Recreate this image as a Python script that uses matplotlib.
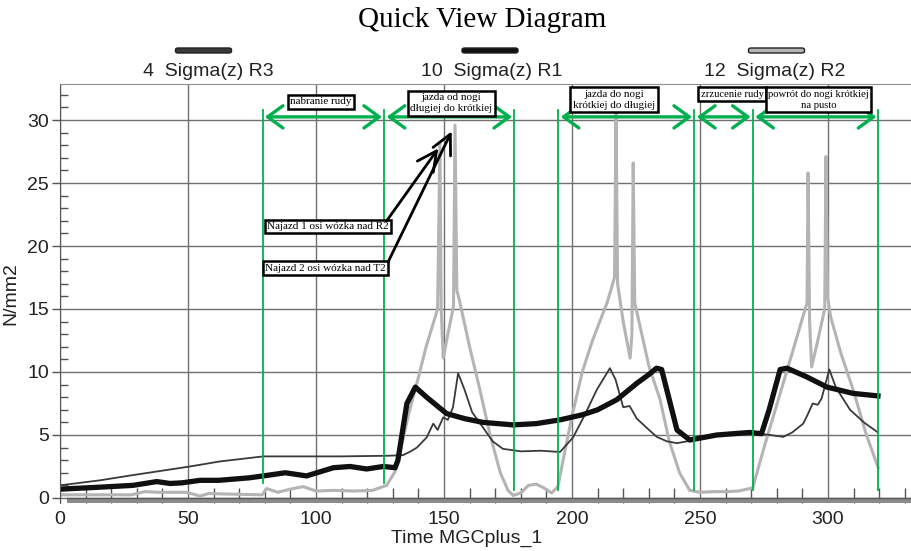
import matplotlib
matplotlib.use("Agg")
from matplotlib import pyplot as plt
from matplotlib.patches import FancyBboxPatch, ArrowStyle
from matplotlib.ticker import MultipleLocator

plt.rcParams['font.family'] = ['Liberation Sans', 'DejaVu Sans']

# ---- data ----
# 4 Sigma(z) R3 (thin dark grey)
r3_t = [0, 15.6, 28, 37.8, 50.8, 62.5, 79.4, 95.7, 110, 128, 134, 137, 139.4, 143.2, 145.8, 147.5,
        149.7, 151.5, 153.5, 155.5, 158, 161, 165.2, 169, 173, 180, 188, 195.3, 200.4, 205, 209.7,
        214.8, 217, 220, 222.5, 225.3, 229, 233.1, 237, 241, 247.8, 255, 262, 269.5, 277.3, 282.5,
        286, 290.3, 292, 294, 296, 297.5, 300.5, 303, 308.6, 314, 319.5]
r3_v = [1.0, 1.4, 1.8, 2.1, 2.5, 2.9, 3.3, 3.3, 3.3, 3.35, 3.4, 3.7, 4.0, 4.8, 5.9, 5.4,
        6.4, 6.2, 7.2, 9.9, 8.6, 6.8, 5.6, 4.5, 3.9, 3.7, 3.75, 3.65, 4.8, 6.6, 8.6,
        10.3, 9.4, 7.2, 7.3, 6.3, 5.6, 4.85, 4.5, 4.35, 4.6, 4.9, 5.05, 5.2, 5.0, 4.85,
        5.2, 5.9, 6.6, 7.5, 7.4, 7.9, 10.2, 8.8, 7.0, 6.0, 5.2]

# 10 Sigma(z) R1 (thick black)
r1_t = [0, 15, 28.5, 37.8, 43, 47.6, 54.7, 62, 74, 79.4, 88, 96.3, 106.8, 113.3, 119.8, 126.3, 130.9,
        132, 135.5, 138.8, 143.2, 151, 158, 165.2, 177, 186, 195.3, 204, 210, 217.5, 225.3, 230, 233,
        235, 237, 241, 246, 256.6, 269.5, 274, 277, 281.3, 284, 291.8, 299.6, 309.8, 319.5]
r1_v = [0.7, 0.85, 1.0, 1.3, 1.15, 1.2, 1.4, 1.4, 1.6, 1.75, 2.0, 1.75, 2.4, 2.5, 2.3, 2.5, 2.4,
        3.0, 7.5, 8.8, 8.0, 6.7, 6.3, 6.0, 5.8, 5.9, 6.2, 6.6, 7.0, 7.8, 9.1, 9.8, 10.3,
        10.2, 8.6, 5.4, 4.6, 5.0, 5.2, 5.1, 7.0, 10.2, 10.3, 9.6, 8.8, 8.3, 8.1]

# 12 Sigma(z) R2 (light grey)
r2_t = [0, 15.6, 28, 33, 39, 49.5, 54.7, 58, 67.7, 79, 80.7, 85, 90, 95, 100, 106.8, 115, 122,
        127.6, 130.9, 132.8, 136, 139.9, 143, 147.5, 148.4, 148.9, 149.7, 151.5, 153.7, 154.3, 155,
        156, 160, 164, 168, 172, 175, 177, 180, 183, 186, 189, 192, 194.5, 197, 200, 204, 208,
        213.7, 216.6, 217.2, 217.8, 220, 222.7, 223.4, 223.9, 224.5, 225.4, 230, 234.4, 238, 242,
        246, 250, 255, 260, 265, 270.6, 275, 281.3, 286, 290.2, 291.8, 292.2, 292.8, 293.6, 296,
        298.7, 299.2, 299.8, 301, 305, 309.8, 315, 319.6]
r2_v = [0.25, 0.25, 0.25, 0.5, 0.45, 0.45, 0.15, 0.35, 0.3, 0.25, 0.75, 0.45, 0.7, 0.9, 0.55, 0.6, 0.55, 0.6,
        1.0, 2.1, 3.6, 6.5, 9.5, 12.0, 15.0, 28.2, 15.0, 11.1, 13.0, 15.2, 29.6, 16.5,
        15.7, 12.0, 8.6, 5.0, 2.0, 0.6, 0.2, 0.4, 1.0, 1.1, 0.8, 0.4, 0.9, 3.5, 6.5, 10.0, 12.5,
        15.5, 17.5, 30.5, 17.0, 14.0, 11.1, 13.0, 26.6, 15.5, 14.7, 10.5, 7.8, 4.5, 2.0,
        0.6, 0.45, 0.5, 0.5, 0.55, 0.8, 4.0, 8.3, 11.5, 14.4, 15.5, 25.8, 14.0, 10.4, 12.5,
        15.0, 27.1, 16.0, 14.4, 11.5, 8.6, 5.0, 2.4]

# phase boundaries (green lines) and labels
bounds = [79.2, 126.6, 177.4, 194.6, 247.8, 270.6, 319.7]
bound_bottom = [1.2, 1.2, 0.6, 0.6, 0.6, 0.6, 0.6]
phase_arrows = [(80.0, 125.8), (127.6, 176.6), (195.6, 246.9), (248.8, 269.8), (271.6, 318.9)]
phase_texts = ["nabranie rudy", "jazda od nogi\ndługiej do krótkiej", "jazda do nogi\nkrótkiej do długiej",
               "zrzucenie rudy", "powrót do nogi krótkiej\nna pusto"]
phase_text_pos = [(102.0, 31.45), (152.9, 31.35), (216.4, 31.6), (262.6, 32.05), (296.3, 31.6)]
phase_size = [8, 8, 8, 7.7, 7.7]

notes = ["Najazd 1 osi wózka nad R2", "Najazd 2 osi wózka nad T2"]
note_pos = [(104.8, 21.55), (103.7, 18.25)]
note_start = [(127.6, 22.0), (128.2, 18.75)]
note_tip = [(147.8, 27.75), (153.0, 29.1)]

series_names = ["4  Sigma(z) R3", "10  Sigma(z) R1", "12  Sigma(z) R2"]
series_colors = ["#3a3a3a", "#101010", "#b4b4b4"]

# ---- figure ----
fig = plt.figure(figsize=(9.12, 5.51), dpi=100)
ax = fig.add_axes([60 / 912, 1 - 503 / 551, 852 / 912, 419 / 551])
ax.set_xlim(0, 332.8)
ax.set_ylim(-0.4, 32.86)

ax.plot(r2_t, r2_v, color=series_colors[2], lw=2.2, zorder=2)
ax.plot(r3_t, r3_v, color=series_colors[0], lw=1.3, zorder=2.2)
ax.plot(r1_t, r1_v, color=series_colors[1], lw=3.8, zorder=2.4)

# grid / ticks
ax.xaxis.set_major_locator(MultipleLocator(50))
ax.xaxis.set_minor_locator(MultipleLocator(10))
ax.yaxis.set_major_locator(MultipleLocator(5))
ax.yaxis.set_minor_locator(MultipleLocator(1))
ax.grid(True, which="major", color="#707070", lw=1.0)
ax.tick_params(axis="y", which="major", direction="out", length=6, width=1, color="#555555",
               labelsize=14, pad=2, labelcolor="#222222")
ax.tick_params(axis="y", which="minor", direction="in", length=6, width=1, color="#555555")
ax.tick_params(axis="x", which="major", direction="in", length=0, labelsize=14, pad=6,
               labelcolor="#222222")
ax.tick_params(axis="x", which="minor", direction="in", length=11, width=1, color="#555555")
for s in ["right", "bottom"]:
    ax.spines[s].set_visible(False)
ax.spines["top"].set_color("#909090")
ax.spines["left"].set_color("#555555")
ax.axhspan(-0.4, 0.0, xmin=2.6 / 332.8, xmax=1, color="#8a8a8a", lw=0, zorder=3)
ax.axhline(0.0, xmin=2.6 / 332.8, color="#5a5a5a", lw=1, zorder=3)

ax.set_ylabel("N/mm2", fontsize=14, color="#222222")
ax.yaxis.set_label_coords(-0.048, 0.5)
ax.set_xlabel("Time MGCplus_1", fontsize=14, color="#222222", va="center")
ax.xaxis.set_label_coords((467 - 60) / 852, -35 / 419)

# green phase markers
green = "#00b04f"
for b, lo in zip(bounds, bound_bottom):
    ax.plot([b, b], [lo, 30.8], color=green, lw=1.3, zorder=4)
for a, b in phase_arrows:
    ax.annotate("", xy=(b, 30.25), xytext=(a, 30.25),
                arrowprops=dict(arrowstyle=ArrowStyle("<->", head_length=0.55, head_width=0.4),
                                color=green, lw=2.4, mutation_scale=20, shrinkA=0, shrinkB=0),
                zorder=4)
for txt, (x, y), fs in zip(phase_texts, phase_text_pos, phase_size):
    ax.text(x, y, txt, ha="center", va="center", fontsize=fs, family="Liberation Serif",
            linespacing=1.3, zorder=5,
            bbox=dict(boxstyle="square,pad=0.22", fc="white", ec="black", lw=1.8))

# black annotation arrows
for txt, (x, y), st, tip in zip(notes, note_pos, note_start, note_tip):
    ax.text(x, y, txt, ha="center", va="center", fontsize=8, family="Liberation Serif", zorder=5,
            bbox=dict(boxstyle="square,pad=0.2", fc="white", ec="black", lw=1.8))
    ax.annotate("", xy=tip, xytext=st,
                arrowprops=dict(arrowstyle=ArrowStyle("->", head_length=0.7, head_width=0.35),
                                color="black", lw=2.0, mutation_scale=20, shrinkA=0, shrinkB=0),
                zorder=5)

# title and legend
fig.text(482 / 912, 1 - 20 / 551, "Quick View Diagram", ha="center", va="center",
         fontsize=21, family="Liberation Serif")
leg_bar_x = [203.5, 490, 776.5]
leg_lab_x = [208, 492, 775]
for name, col, bx, lx in zip(series_names, series_colors, leg_bar_x, leg_lab_x):
    fig.patches.append(FancyBboxPatch(((bx - 28) / 912, 1 - 53 / 551), 56 / 912, 5 / 551,
                                      boxstyle="round,pad=0,rounding_size=0.003",
                                      transform=fig.transFigure, fc=col, ec="#222222", lw=1))
    fig.text(lx / 912, 1 - 72 / 551, name, ha="center", va="center", fontsize=14, color="#222222")

fig.savefig("out.png", dpi=100)
